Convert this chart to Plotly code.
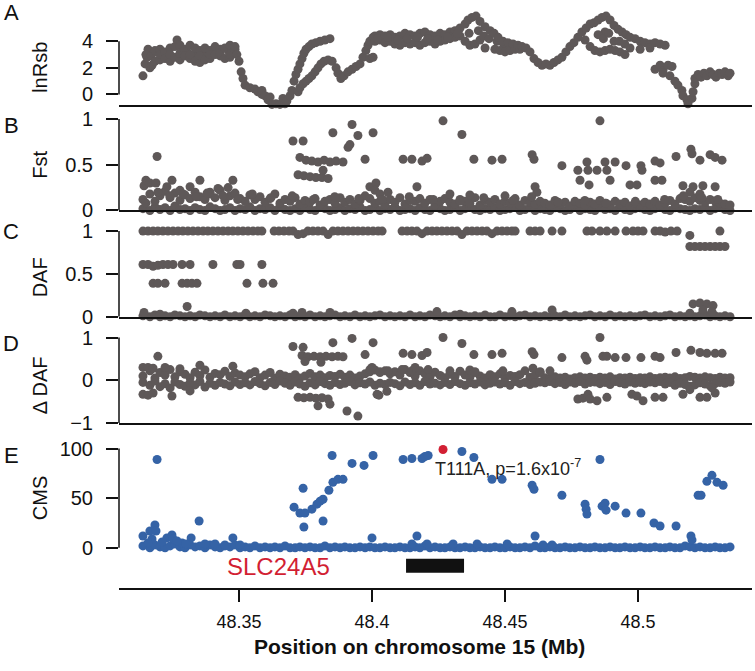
import plotly.graph_objects as go

# ---------------- data (positions in Mb) ----------------
xtick_vals = [48.35, 48.40, 48.45, 48.50]
xtick_text = ["48.35", "48.4", "48.45", "48.5"]

lnrsb_ticks = [0, 2, 4]
fst_ticks = [0, 0.5, 1]
daf_ticks = [0, 0.5, 1]
ddaf_ticks = [-1, 0, 1]
cms_ticks = [0, 50, 100]

lnrsb_points = [
    (48.3139, 1.4), (48.3147, 2.3), (48.3154, 2.8), (48.3158, 3.4), (48.3165, 2.0), (48.3173, 2.2),
    (48.3150, 3.0), (48.3192, 3.2), (48.3233, 2.9), (48.3290, 3.3), (48.3340, 3.1), (48.3400, 3.2),
    (48.3460, 3.3), (48.3170, 2.9), (48.3212, 3.1), (48.3305, 3.2), (48.3365, 3.0), (48.3420, 3.3),
    (48.3184, 3.3), (48.3184, 2.5), (48.3203, 3.4), (48.3203, 2.6), (48.3203, 3.0),
    (48.3222, 3.2), (48.3222, 2.7), (48.3241, 3.5), (48.3241, 2.5), (48.3241, 3.0),
    (48.3259, 3.6), (48.3259, 2.8), (48.3267, 4.1), (48.3278, 3.7), (48.3278, 2.6), (48.3278, 3.1),
    (48.3297, 3.4), (48.3297, 2.9), (48.3316, 3.7), (48.3316, 2.7), (48.3316, 3.0),
    (48.3335, 3.5), (48.3335, 2.5), (48.3353, 3.3), (48.3353, 2.4), (48.3353, 2.9),
    (48.3372, 3.5), (48.3372, 2.6), (48.3391, 3.3), (48.3391, 2.7), (48.3391, 3.0),
    (48.3410, 3.6), (48.3410, 3.0), (48.3429, 3.4), (48.3429, 2.9), (48.3429, 3.1),
    (48.3447, 3.5), (48.3447, 2.7), (48.3466, 3.7), (48.3466, 2.8), (48.3466, 3.0),
    (48.3485, 3.4), (48.3485, 3.6),
    (48.3492, 3.0), (48.3500, 2.5), (48.3508, 1.7), (48.3515, 1.2), (48.3523, 0.7), (48.3541, 0.5),
    (48.3560, 0.4), (48.3571, 0.2), (48.3586, 0.0), (48.3586, 0.3), (48.3598, -0.1), (48.3609, -0.4),
    (48.3617, -0.2), (48.3624, -0.75), (48.3639, -0.7), (48.3654, -0.75), (48.3665, -0.3),
    (48.3673, -0.7), (48.3680, -0.5), (48.3692, -0.1), (48.3699, 0.3),
    (48.3707, 1.0), (48.3714, 1.5), (48.3722, 1.9), (48.3729, 2.3), (48.3737, 2.7), (48.3744, 3.1),
    (48.3752, 3.4), (48.3763, 3.6), (48.3774, 3.8), (48.3789, 3.9), (48.3805, 4.0), (48.3823, 4.1),
    (48.3842, 4.2),
    (48.3722, 0.2), (48.3729, 0.5), (48.3741, 0.8), (48.3752, 1.0), (48.3763, 1.2), (48.3774, 1.4),
    (48.3786, 1.7), (48.3797, 2.0), (48.3808, 2.3), (48.3820, 2.5), (48.3835, 2.6), (48.3850, 2.5),
    (48.3865, 2.0), (48.3872, 1.6), (48.3883, 1.2), (48.3895, 1.4), (48.3910, 1.7), (48.3925, 1.9),
    (48.3940, 2.1), (48.3955, 2.3), (48.3966, 2.8), (48.3977, 3.3), (48.3985, 3.7),
    (48.3992, 2.7), (48.3992, 4.0), (48.4004, 2.8), (48.4004, 4.3),
    (48.4011, 4.4), (48.4011, 4.0), (48.4030, 4.5), (48.4030, 4.1), (48.4049, 4.4), (48.4049, 3.9),
    (48.4068, 4.5), (48.4068, 4.0), (48.4086, 4.3), (48.4086, 3.8), (48.4105, 4.4), (48.4105, 3.7),
    (48.4124, 4.6), (48.4124, 3.9), (48.4143, 4.5), (48.4143, 3.8), (48.4162, 4.4), (48.4162, 3.9),
    (48.4180, 4.6), (48.4180, 3.7), (48.4199, 4.7), (48.4199, 3.9), (48.4218, 4.5), (48.4218, 4.0),
    (48.4237, 4.4), (48.4237, 3.8), (48.4256, 4.6), (48.4256, 4.0), (48.4274, 4.5), (48.4274, 4.1),
    (48.4293, 4.7), (48.4293, 4.2), (48.4312, 4.8), (48.4312, 4.3), (48.4331, 5.0), (48.4331, 4.4),
    (48.4020, 4.2), (48.4058, 4.3), (48.4096, 4.1), (48.4133, 4.2), (48.4171, 4.3), (48.4209, 4.2),
    (48.4246, 4.1), (48.4284, 4.3), (48.4321, 4.6),
    (48.4350, 5.3), (48.4350, 4.0), (48.4361, 5.6), (48.4368, 3.7), (48.4376, 5.8), (48.4387, 3.8),
    (48.4391, 5.9), (48.4406, 5.5), (48.4406, 4.1), (48.4425, 5.1), (48.4425, 3.5),
    (48.4365, 4.6), (48.4400, 4.8), (48.4420, 4.4), (48.4440, 4.2), (48.4470, 4.0), (48.4495, 3.8),
    (48.4520, 3.6),
    (48.4444, 4.8), (48.4459, 4.6), (48.4462, 3.4), (48.4474, 4.3), (48.4481, 3.3),
    (48.4492, 4.0), (48.4500, 3.2), (48.4511, 3.9), (48.4519, 3.3), (48.4530, 3.8), (48.4538, 3.4),
    (48.4549, 3.7), (48.4556, 3.4), (48.4564, 3.6), (48.4579, 3.5), (48.4594, 3.2), (48.4609, 2.7),
    (48.4624, 2.4), (48.4639, 2.2), (48.4654, 2.3), (48.4669, 2.2), (48.4684, 2.4), (48.4699, 2.6),
    (48.4714, 2.8), (48.4729, 3.2), (48.4744, 3.6), (48.4759, 3.9), (48.4774, 4.3), (48.4789, 4.7),
    (48.4801, 4.1), (48.4805, 5.0), (48.4820, 5.3), (48.4820, 3.6), (48.4835, 5.4), (48.4838, 3.3),
    (48.4850, 5.6), (48.4857, 3.2), (48.4865, 5.8), (48.4876, 4.7), (48.4876, 3.3), (48.4880, 5.9),
    (48.4850, 4.5), (48.4870, 4.2), (48.4890, 4.6), (48.4910, 4.0), (48.4930, 4.0), (48.4950, 3.8),
    (48.4895, 5.6), (48.4895, 3.4), (48.4910, 5.2), (48.4914, 3.3), (48.4925, 4.9), (48.4932, 3.2),
    (48.4940, 4.7), (48.4951, 3.0), (48.4955, 4.5), (48.4970, 4.3), (48.4970, 3.5), (48.4989, 4.2),
    (48.5008, 4.0), (48.5008, 3.4), (48.5026, 3.9), (48.5045, 3.8), (48.5045, 3.5),
    (48.5064, 3.9), (48.5064, 1.9), (48.5083, 3.8), (48.5083, 2.2), (48.5094, 1.8), (48.5094, 1.6),
    (48.5102, 3.7), (48.5113, 2.2), (48.5120, 1.4), (48.5128, 2.1), (48.5139, 1.0), (48.5150, 0.7),
    (48.5165, 0.3), (48.5169, -0.1), (48.5184, -0.4), (48.5188, -0.7), (48.5203, -0.3), (48.5207, 0.2),
    (48.5214, 0.8), (48.5214, 1.2), (48.5226, 1.5), (48.5237, 1.3), (48.5248, 1.6), (48.5259, 1.4),
    (48.5271, 1.7), (48.5282, 1.5), (48.5293, 1.3), (48.5305, 1.6), (48.5316, 1.5), (48.5327, 1.7),
    (48.5339, 1.4), (48.5346, 1.6),
]

baseline_pos = [
    48.3139, 48.3165, 48.3184, 48.3203, 48.3222, 48.3241, 48.3259, 48.3278, 48.3297, 48.3316,
    48.3335, 48.3353, 48.3372, 48.3391, 48.3410, 48.3429, 48.3447, 48.3466, 48.3485, 48.3504,
    48.3523, 48.3541, 48.3560, 48.3579, 48.3598, 48.3617, 48.3635, 48.3654, 48.3673, 48.3692,
    48.3711, 48.3729, 48.3748, 48.3767, 48.3786, 48.3805, 48.3823, 48.3842, 48.3861, 48.3880,
    48.3898, 48.3917, 48.3936, 48.3955, 48.3974, 48.3992, 48.4011, 48.4030, 48.4049, 48.4068,
    48.4086, 48.4105, 48.4124, 48.4143, 48.4162, 48.4180, 48.4199, 48.4218, 48.4237, 48.4256,
    48.4274, 48.4293, 48.4312, 48.4331, 48.4350, 48.4368, 48.4387, 48.4406, 48.4425, 48.4444,
    48.4462, 48.4481, 48.4500, 48.4519, 48.4538, 48.4556, 48.4575, 48.4594, 48.4613, 48.4632,
    48.4650, 48.4669, 48.4688, 48.4707, 48.4726, 48.4744, 48.4763, 48.4782, 48.4801, 48.4820,
    48.4838, 48.4857, 48.4876, 48.4895, 48.4914, 48.4932, 48.4951, 48.4970, 48.4989, 48.5008,
    48.5026, 48.5045, 48.5064, 48.5083, 48.5102, 48.5120, 48.5139, 48.5158, 48.5177, 48.5195,
    48.5214, 48.5233, 48.5252, 48.5271, 48.5290, 48.5308, 48.5327, 48.5346,
]

fst_low = [
    0.02, 0.00, 0.04, 0.01, 0.03, 0.00, 0.05, 0.01, 0.02, 0.00,
    0.03, 0.01, 0.00, 0.04, 0.02, 0.00, 0.01, 0.03, 0.00, 0.02,
    0.01, 0.04, 0.00, 0.02, 0.01, 0.03, 0.00, 0.05, 0.01, 0.00,
    0.02, 0.00, 0.03, 0.01, 0.00, 0.04, 0.02, 0.00, 0.01, 0.03,
    0.00, 0.02, 0.01, 0.04, 0.00, 0.01, 0.03, 0.00, 0.02, 0.01,
    0.04, 0.00, 0.01, 0.02, 0.00, 0.03, 0.01, 0.00, 0.05, 0.02,
    0.00, 0.01, 0.03, 0.00, 0.02, 0.04, 0.01, 0.00, 0.02, 0.01,
    0.03, 0.00, 0.01, 0.02, 0.04, 0.00, 0.01, 0.03, 0.00, 0.02,
    0.01, 0.00, 0.03, 0.02, 0.00, 0.01, 0.04, 0.00, 0.02, 0.01,
    0.00, 0.03, 0.01, 0.02, 0.00, 0.04, 0.01, 0.00, 0.02, 0.03,
    0.01, 0.00, 0.02, 0.04, 0.01, 0.00, 0.03, 0.02, 0.01, 0.00,
    0.02, 0.01, 0.03, 0.00, 0.02, 0.04, 0.01, 0.00,
]
fst_mid = [
    0.12, 0.18, 0.10, 0.16, 0.21, 0.14, 0.19, 0.11, 0.17, 0.13,
    0.20, 0.15, 0.12, 0.18, 0.14, 0.22, 0.11, 0.16, 0.19, 0.13,
    0.10, 0.17, 0.12, 0.15, 0.09, 0.13, 0.18, 0.08, 0.12, 0.10,
    0.14, 0.07, 0.11, 0.09, 0.13, 0.06, 0.10, 0.12, 0.08, 0.14,
    0.09, 0.12, 0.07, 0.11, 0.16, 0.13, 0.08, 0.10, 0.06, 0.12,
    0.09, 0.14, 0.07, 0.11, 0.10, 0.13, 0.08, 0.12, 0.06, 0.10,
    0.13, 0.09, 0.07, 0.12, 0.10, 0.08, 0.14, 0.06, 0.11, 0.09,
    0.12, 0.07, 0.10, 0.08, 0.13, 0.06, 0.11, 0.09, 0.07, 0.10,
    0.08, 0.06, 0.11, 0.07, 0.09, 0.05, 0.10, 0.08, 0.06, 0.09,
    0.07, 0.11, 0.08, 0.06, 0.10, 0.07, 0.09, 0.05, 0.08, 0.06,
    0.09, 0.07, 0.10, 0.06, 0.08, 0.11, 0.07, 0.13, 0.12, 0.10,
    0.14, 0.11, 0.09, 0.12, 0.10, 0.08, 0.07, 0.06,
]
fst_peaks = [
    (48.3192, 0.59), (48.3143, 0.27), (48.3150, 0.33), (48.3165, 0.30), (48.3188, 0.30),
    (48.3248, 0.33), (48.3229, 0.26), (48.3353, 0.33), (48.3316, 0.26), (48.3477, 0.33),
    (48.3459, 0.25), (48.3278, 0.22), (48.3391, 0.20), (48.3421, 0.24),
    (48.3703, 0.76), (48.3741, 0.76),
    (48.3729, 0.58), (48.3752, 0.55), (48.3774, 0.54), (48.3797, 0.53), (48.3820, 0.55),
    (48.3842, 0.53), (48.3865, 0.54), (48.3891, 0.53),
    (48.3722, 0.39), (48.3744, 0.38), (48.3767, 0.37), (48.3789, 0.36), (48.3812, 0.36),
    (48.3835, 0.35), (48.3816, 0.44),
    (48.3853, 0.85), (48.3925, 0.94), (48.3947, 0.82), (48.3910, 0.69), (48.3917, 0.72),
    (48.3974, 0.56), (48.4004, 0.85),
    (48.3992, 0.26), (48.4015, 0.30), (48.4011, 0.22), (48.4030, 0.18), (48.4060, 0.20),
    (48.4267, 0.98), (48.4338, 0.83), (48.4117, 0.56), (48.4150, 0.56), (48.4188, 0.54),
    (48.4207, 0.57), (48.4383, 0.56), (48.4451, 0.55), (48.4489, 0.56), (48.4602, 0.61),
    (48.4609, 0.56), (48.4714, 0.49), (48.4857, 0.98), (48.4774, 0.44), (48.4808, 0.53),
    (48.4812, 0.44), (48.4782, 0.33), (48.4816, 0.28), (48.4846, 0.44), (48.4876, 0.53),
    (48.4883, 0.44), (48.4914, 0.53), (48.4895, 0.33), (48.4955, 0.49), (48.4970, 0.28),
    (48.4996, 0.28), (48.5011, 0.49), (48.5015, 0.44), (48.5064, 0.54), (48.5083, 0.52),
    (48.5064, 0.33), (48.5090, 0.33), (48.5143, 0.59), (48.5199, 0.67), (48.5203, 0.62),
    (48.5233, 0.55), (48.5271, 0.61), (48.5290, 0.58), (48.5316, 0.55), (48.5169, 0.27),
    (48.5207, 0.26), (48.5244, 0.27), (48.5290, 0.26), (48.4169, 0.26), (48.4613, 0.26),
    (48.5195, 0.20), (48.5233, 0.18), (48.4293, 0.18), (48.4368, 0.17), (48.4500, 0.16),
    (48.4620, 0.20),
    (48.3150, 0.08), (48.3195, 0.20), (48.3240, 0.16), (48.3290, 0.18), (48.3340, 0.15),
    (48.3380, 0.19), (48.3440, 0.16), (48.3495, 0.12), (48.3550, 0.18), (48.3620, 0.14),
    (48.3700, 0.16), (48.3780, 0.12), (48.3860, 0.15), (48.3950, 0.13), (48.4040, 0.12),
    (48.4140, 0.15), (48.4230, 0.12), (48.4330, 0.10), (48.4420, 0.14), (48.4530, 0.11),
    (48.4600, 0.15), (48.4700, 0.09), (48.4800, 0.11), (48.4880, 0.08), (48.4990, 0.10),
    (48.5100, 0.12), (48.5170, 0.16), (48.5240, 0.14), (48.5300, 0.12),
]

daf_base = [
    0.01, 0.00, 0.02, 0.00, 0.01, 0.00, 0.02, 0.01, 0.00, 0.01,
    0.00, 0.02, 0.01, 0.00, 0.01, 0.00, 0.02, 0.00, 0.01, 0.00,
    0.02, 0.00, 0.01, 0.00, 0.02, 0.01, 0.00, 0.01, 0.00, 0.02,
    0.00, 0.01, 0.00, 0.02, 0.00, 0.01, 0.00, 0.01, 0.02, 0.00,
    0.01, 0.00, 0.02, 0.00, 0.01, 0.00, 0.01, 0.02, 0.00, 0.01,
    0.00, 0.01, 0.00, 0.02, 0.00, 0.01, 0.00, 0.02, 0.01, 0.00,
    0.01, 0.00, 0.02, 0.00, 0.01, 0.00, 0.01, 0.00, 0.02, 0.00,
    0.00, 0.02, 0.00, 0.01, 0.00, 0.01, 0.02, 0.00, 0.01, 0.00,
    0.01, 0.00, 0.01, 0.00, 0.02, 0.00, 0.01, 0.00, 0.01, 0.02,
    0.00, 0.01, 0.00, 0.02, 0.00, 0.01, 0.00, 0.01, 0.00, 0.01,
    0.02, 0.00, 0.01, 0.00, 0.01, 0.02, 0.00, 0.01, 0.00, 0.01,
    0.00, 0.01, 0.02, 0.00, 0.01, 0.00, 0.01, 0.00,
]
daf_peaks = [
    # fixed (~1)
    (48.3139, 1.0), (48.3158, 1.0), (48.3177, 1.0), (48.3195, 1.0), (48.3214, 1.0), (48.3233, 1.0),
    (48.3252, 1.0), (48.3271, 1.0), (48.3289, 1.0), (48.3308, 1.0), (48.3327, 1.0), (48.3346, 1.0),
    (48.3365, 1.0), (48.3383, 1.0), (48.3402, 1.0), (48.3421, 1.0), (48.3440, 1.0), (48.3459, 1.0),
    (48.3477, 1.0), (48.3496, 1.0), (48.3515, 1.0), (48.3534, 1.0), (48.3553, 1.0), (48.3571, 1.0),
    (48.3586, 1.0),
    (48.3632, 1.0), (48.3650, 1.0), (48.3669, 1.0), (48.3688, 1.0), (48.3703, 1.0), (48.3722, 0.96),
    (48.3741, 0.97), (48.3759, 1.0), (48.3778, 1.0), (48.3797, 1.0), (48.3816, 1.0), (48.3835, 0.96),
    (48.3853, 1.0), (48.3872, 1.0), (48.3891, 1.0), (48.3910, 1.0), (48.3929, 1.0), (48.3947, 1.0),
    (48.3966, 1.0), (48.3985, 1.0), (48.4004, 1.0), (48.4023, 1.0), (48.4038, 1.0),
    (48.4113, 1.0), (48.4132, 1.0), (48.4150, 1.0), (48.4169, 1.0), (48.4188, 0.97), (48.4207, 1.0),
    (48.4226, 1.0), (48.4244, 1.0), (48.4263, 1.0), (48.4282, 1.0), (48.4301, 1.0), (48.4320, 1.0),
    (48.4338, 0.96), (48.4357, 1.0), (48.4376, 1.0), (48.4395, 1.0), (48.4414, 1.0), (48.4432, 1.0),
    (48.4451, 0.97), (48.4470, 1.0), (48.4489, 1.0), (48.4508, 1.0), (48.4526, 1.0), (48.4538, 1.0),
    (48.4594, 1.0), (48.4613, 1.0), (48.4632, 1.0), (48.4677, 1.0), (48.4714, 1.0),
    (48.4808, 1.0), (48.4827, 1.0), (48.4857, 1.0), (48.4883, 1.0), (48.4914, 1.0), (48.4955, 1.0),
    (48.4981, 1.0), (48.5000, 1.0), (48.5019, 1.0),
    (48.5064, 1.0), (48.5083, 1.0), (48.5102, 0.99), (48.5124, 1.0), (48.5147, 1.0),
    (48.5195, 0.95), (48.5308, 1.0),
    # ~0.82 row
    (48.5195, 0.82), (48.5214, 0.82), (48.5233, 0.82), (48.5252, 0.82), (48.5271, 0.82),
    (48.5290, 0.82), (48.5308, 0.82), (48.5327, 0.82),
    # ~0.6 row
    (48.3139, 0.61), (48.3158, 0.61), (48.3177, 0.59), (48.3195, 0.60), (48.3214, 0.61),
    (48.3233, 0.61), (48.3252, 0.61), (48.3286, 0.61), (48.3316, 0.61), (48.3402, 0.61),
    (48.3492, 0.61), (48.3504, 0.61), (48.3586, 0.61),
    # ~0.4 row
    (48.3177, 0.39), (48.3195, 0.39), (48.3222, 0.39), (48.3286, 0.39), (48.3305, 0.39),
    (48.3323, 0.39), (48.3342, 0.39), (48.3530, 0.39), (48.3590, 0.39), (48.3628, 0.39),
    # low
    (48.3305, 0.12), (48.3143, 0.05), (48.3203, 0.03), (48.3526, 0.04), (48.3703, 0.04),
    (48.3737, 0.05), (48.3842, 0.05), (48.4244, 0.06), (48.4331, 0.03), (48.4526, 0.06),
    (48.4677, 0.08), (48.5207, 0.15), (48.5233, 0.16), (48.5259, 0.15), (48.5282, 0.13),
    (48.5244, 0.08), (48.5278, 0.06), (48.5195, 0.04),
]

ddaf_up = [
    0.10, 0.22, 0.05, 0.18, 0.12, 0.25, 0.08, 0.20, 0.14, 0.06,
    0.19, 0.11, 0.24, 0.07, 0.16, 0.13, 0.21, 0.09, 0.17, 0.12,
    0.08, 0.15, 0.20, 0.06, 0.12, 0.18, 0.05, 0.14, 0.10, 0.07,
    0.13, 0.05, 0.10, 0.16, 0.08, 0.12, 0.06, 0.11, 0.09, 0.14,
    0.07, 0.12, 0.05, 0.10, 0.15, 0.20, 0.24, 0.18, 0.22, 0.15,
    0.20, 0.12, 0.25, 0.18, 0.10, 0.22, 0.15, 0.08, 0.19, 0.11,
    0.06, 0.14, 0.09, 0.21, 0.12, 0.07, 0.18, 0.10, 0.05, 0.13,
    0.08, 0.15, 0.06, 0.11, 0.09, 0.13, 0.22, 0.07, 0.12, 0.18,
    0.06, 0.04, 0.08, 0.05, 0.07, 0.03, 0.06, 0.08, 0.05, 0.07,
    0.04, 0.07, 0.05, 0.08, 0.03, 0.06, 0.05, 0.07, 0.04, 0.06,
    0.05, 0.08, 0.04, 0.06, 0.07, 0.05, 0.08, 0.04, 0.06, 0.09,
    0.07, 0.05, 0.08, 0.06, 0.04, 0.07, 0.05, 0.06,
]
ddaf_dn = [
    -0.05, -0.12, -0.02, -0.15, -0.08, -0.18, -0.04, -0.10, -0.14, -0.06,
    -0.11, -0.03, -0.16, -0.07, -0.12, -0.05, -0.09, -0.13, -0.04, -0.10,
    -0.06, -0.11, -0.03, -0.08, -0.13, -0.05, -0.10, -0.02, -0.07, -0.12,
    -0.04, -0.09, -0.14, -0.06, -0.11, -0.03, -0.08, -0.12, -0.05, -0.10,
    -0.07, -0.03, -0.11, -0.06, -0.09, -0.04, -0.12, -0.07, -0.10, -0.05,
    -0.08, -0.13, -0.04, -0.10, -0.06, -0.12, -0.03, -0.09, -0.07, -0.11,
    -0.05, -0.10, -0.03, -0.08, -0.12, -0.06, -0.09, -0.04, -0.11, -0.07,
    -0.04, -0.09, -0.06, -0.12, -0.03, -0.08, -0.05, -0.10, -0.07, -0.04,
    -0.06, -0.03, -0.08, -0.05, -0.10, -0.04, -0.07, -0.03, -0.09, -0.05,
    -0.04, -0.08, -0.05, -0.10, -0.03, -0.06, -0.09, -0.04, -0.07, -0.05,
    -0.08, -0.04, -0.06, -0.03, -0.09, -0.05, -0.12, -0.07, -0.10, -0.14,
    -0.11, -0.06, -0.09, -0.13, -0.08, -0.05, -0.07, -0.04,
]
ddaf_peaks = [
    (48.3195, 0.56), (48.3139, 0.30), (48.3158, 0.30), (48.3177, 0.28), (48.3139, -0.33),
    (48.3158, -0.35), (48.3177, -0.30), (48.3248, -0.37), (48.3222, 0.30), (48.3278, 0.27),
    (48.3353, 0.35), (48.3477, 0.33), (48.3316, -0.25),
    (48.3703, 0.79), (48.3741, 0.77),
    (48.3737, 0.58), (48.3759, 0.55), (48.3782, 0.56), (48.3805, 0.55), (48.3827, 0.56),
    (48.3850, 0.55), (48.3872, 0.56), (48.3891, 0.55), (48.3748, 0.44), (48.3808, 0.42),
    (48.3722, -0.40), (48.3744, -0.41), (48.3767, -0.40), (48.3789, -0.42), (48.3812, -0.41),
    (48.3835, -0.44), (48.3797, -0.60), (48.3842, -0.56), (48.3906, -0.72), (48.3947, -0.84),
    (48.3853, 0.88), (48.3925, 0.98), (48.4004, 0.88), (48.3974, 0.60), (48.4019, -0.33),
    (48.4026, -0.35), (48.4056, -0.26), (48.4000, 0.30),
    (48.4267, 1.0), (48.4338, 0.86), (48.4117, 0.63), (48.4150, 0.60), (48.4188, 0.58),
    (48.4207, 0.65), (48.4383, 0.60), (48.4451, 0.60), (48.4489, 0.63), (48.4602, 0.67),
    (48.4609, 0.60), (48.4714, 0.53), (48.4801, 0.56), (48.4808, 0.47), (48.4857, 1.0),
    (48.4868, 0.56), (48.4883, 0.56), (48.4914, 0.53), (48.4955, 0.53), (48.5011, 0.53),
    (48.5064, 0.56), (48.5083, 0.53), (48.5143, 0.65), (48.5199, 0.70), (48.5233, 0.65),
    (48.5259, 0.63), (48.5290, 0.63), (48.5316, 0.63),
    (48.4774, -0.44), (48.4793, -0.42), (48.4812, -0.33), (48.4820, -0.44), (48.4846, -0.48),
    (48.4883, -0.40), (48.4977, -0.33), (48.4996, -0.37), (48.5019, -0.48), (48.5064, -0.40),
    (48.5094, -0.40), (48.5169, -0.33), (48.5233, -0.40), (48.5259, -0.40), (48.5290, -0.30),
    (48.3992, 0.25), (48.4030, 0.20), (48.4060, 0.22), (48.4113, 0.25), (48.4150, 0.22),
    (48.4162, 0.30), (48.4211, 0.25), (48.4293, 0.22), (48.4368, 0.24), (48.4387, 0.20),
    (48.4492, 0.22), (48.4605, 0.28), (48.4632, 0.20), (48.4669, 0.22),
    (48.5195, -0.22), (48.5278, -0.18),
]

cms_base = [
    2, 0, 3, 1, 0, 2, 4, 1, 0, 3,
    1, 2, 0, 3, 1, 0, 2, 1, 3, 0,
    1, 0, 2, 0, 1, 0, 1, 0, 2, 0,
    0, 1, 0, 1, 0, 0, 2, 0, 1, 0,
    1, 0, 0, 1, 0, 1, 0, 0, 1, 0,
    0, 1, 0, 0, 1, 0, 2, 0, 1, 0,
    0, 1, 0, 0, 1, 0, 0, 1, 0, 0,
    1, 0, 0, 1, 0, 0, 1, 0, 2, 0,
    0, 1, 0, 0, 1, 0, 0, 1, 0, 0,
    1, 0, 0, 1, 0, 0, 1, 0, 0, 1,
    0, 0, 1, 0, 0, 1, 0, 0, 2, 1,
    0, 1, 0, 0, 1, 0, 0, 1,
]
cms_peaks = [
    (48.3192, 89), (48.3139, 12), (48.3165, 17), (48.3184, 23), (48.3188, 17), (48.3173, 9),
    (48.3158, 5), (48.3229, 10), (48.3248, 13), (48.3252, 9), (48.3286, 5), (48.3320, 10),
    (48.3350, 27), (48.3372, 4), (48.3410, 4), (48.3447, 3), (48.3477, 10), (48.3211, 6),
    (48.3267, 7), (48.3301, 4), (48.3504, 3),
    (48.3707, 41), (48.3729, 35), (48.3748, 35), (48.3774, 39), (48.3741, 60), (48.3744, 21),
    (48.3793, 44), (48.3805, 47), (48.3816, 49), (48.3816, 27), (48.3838, 58), (48.3853, 66),
    (48.3872, 69), (48.3891, 69), (48.3850, 93), (48.3925, 85), (48.3970, 83), (48.4004, 93),
    (48.4000, 10),
    (48.4117, 89), (48.4150, 90), (48.4188, 90), (48.4199, 92), (48.4211, 93), (48.4338, 97),
    (48.4383, 91), (48.4451, 69), (48.4489, 69), (48.4602, 63), (48.4609, 59), (48.4714, 53),
    (48.4801, 44), (48.4805, 39), (48.4808, 34), (48.4857, 89), (48.4865, 42), (48.4876, 45),
    (48.4880, 38), (48.4914, 42), (48.4955, 35), (48.5011, 35), (48.5060, 25), (48.5083, 22),
    (48.5143, 22), (48.5199, 12), (48.5203, 8), (48.5226, 53), (48.5237, 53), (48.5259, 67),
    (48.5278, 73), (48.5297, 66), (48.5320, 63),
    (48.4169, 12), (48.4613, 12), (48.4150, 4), (48.4207, 4), (48.4305, 4), (48.4395, 4),
    (48.4508, 4), (48.4643, 3), (48.4677, 3),
]
top_snp = [(48.4267, 99)]
top_snp_label = "T111A, p=1.6x10<sup>-7</sup>"

gene_name = "SLC24A5"
gene_start = 48.4128
gene_end = 48.4346

# ---------------- layout ----------------
W, H = 755, 671
GREY = "#5e5858"
BLUE = "#3563a6"
RED = "#d21f33"
INK = "#111111"
FONT = "Liberation Sans, Arial, sans-serif"
PX_PER_MB = 2660.0


def pyf(p):
    return 1 - p / H


x_dom = [119 / W, 752 / W]
x_range = [48.35 - 120 / PX_PER_MB, 48.35 + 513 / PX_PER_MB]

panels = [
    dict(dom=[pyf(107), pyf(10)], rng=[-0.815, 6.37], ticks=lnrsb_ticks, title="lnRsb",
         title_y=2.0, letter="A", letter_py=13),
    dict(dom=[pyf(214), pyf(110)], rng=[0, 1.118], ticks=fst_ticks, title="Fst",
         title_y=0.5, letter="B", letter_py=128),
    dict(dom=[pyf(322), pyf(218)], rng=[0, 1.195], ticks=daf_ticks, title="DAF",
         title_y=0.46, letter="C", letter_py=235),
    dict(dom=[pyf(430), pyf(326)], rng=[-1, 1.395], ticks=ddaf_ticks, title="\u0394 DAF",
         title_y=-0.12, letter="D", letter_py=349),
    dict(dom=[pyf(598), pyf(434)], rng=[-40.6, 121.8], ticks=cms_ticks, title="CMS",
         title_y=50, letter="E", letter_py=463),
]


def unzip(pairs):
    return [p[0] for p in pairs], [p[1] for p in pairs]


fig = go.Figure()


def add_pts(xs, ys, i, color):
    fig.add_trace(go.Scatter(
        x=xs, y=ys, mode="markers",
        marker=dict(size=9, color=color, line=dict(width=0)),
        xaxis="x" if i == 1 else f"x{i}", yaxis="y" if i == 1 else f"y{i}",
        cliponaxis=False, hoverinfo="skip", showlegend=False))


lx, ly = unzip(lnrsb_points)
add_pts(lx, ly, 1, GREY)

fx, fy = unzip(fst_peaks)
add_pts(baseline_pos + baseline_pos + fx, fst_low + fst_mid + fy, 2, GREY)

dx, dy = unzip(daf_peaks)
add_pts(baseline_pos + dx, daf_base + dy, 3, GREY)

ddx, ddy = unzip(ddaf_peaks)
add_pts(baseline_pos + baseline_pos + ddx, ddaf_up + ddaf_dn + ddy, 4, GREY)

cx, cy = unzip(cms_peaks)
add_pts(baseline_pos + cx, cms_base + cy, 5, BLUE)
tx, ty = unzip(top_snp)
add_pts(tx, ty, 5, RED)

layout = dict(
    width=W, height=H,
    margin=dict(l=0, r=0, t=0, b=0),
    paper_bgcolor="white", plot_bgcolor="white",
    font=dict(family=FONT, color=INK),
    showlegend=False,
)

shapes = []
annotations = []
for k, p in enumerate(panels):
    i = k + 1
    xa = "xaxis" if i == 1 else f"xaxis{i}"
    ya = "yaxis" if i == 1 else f"yaxis{i}"
    xr = "x" if i == 1 else f"x{i}"
    yr = "y" if i == 1 else f"y{i}"
    xdict = dict(domain=x_dom, range=x_range, anchor=yr, showline=True, linecolor=INK,
                 linewidth=1.5, showgrid=False, zeroline=False, showticklabels=False,
                 ticks="")
    if i == 5:
        xdict.update(ticks="outside", ticklen=12, tickwidth=1.5, tickcolor=INK,
                     tickmode="array", tickvals=xtick_vals, ticktext=xtick_text,
                     showticklabels=True, tickfont=dict(size=18, family=FONT, color=INK),
                     ticklabelstandoff=4)
    layout[xa] = xdict
    layout[ya] = dict(domain=p["dom"], range=p["rng"], anchor=xr, showline=False,
                      showgrid=False, zeroline=False, ticks="outside", ticklen=12,
                      tickwidth=1.5, tickcolor=INK, tickmode="array", tickvals=p["ticks"],
                      tickfont=dict(size=20, family=FONT, color=INK), ticklabelstandoff=9)
    # left axis line spanning the tick range (R style)
    shapes.append(dict(type="line", xref="paper", yref=yr, x0=x_dom[0], x1=x_dom[0],
                       y0=min(p["ticks"]), y1=max(p["ticks"]),
                       line=dict(color=INK, width=1.5)))
    annotations.append(dict(text=p["title"], xref="paper", yref=yr, x=40 / W, y=p["title_y"],
                            textangle=-90, showarrow=False, xanchor="center", yanchor="middle",
                            font=dict(size=20, family=FONT, color=INK)))
    annotations.append(dict(text=p["letter"], xref="paper", yref="paper", x=11 / W,
                            y=pyf(p["letter_py"]), showarrow=False, xanchor="center",
                            yanchor="middle", font=dict(size=22, family=FONT, color=INK)))

# gene bar and label
shapes.append(dict(type="rect", xref="x5", yref="y5", x0=gene_start, x1=gene_end,
                   y0=-11, y1=-25, fillcolor="#111111", line=dict(width=0)))
annotations.append(dict(text=gene_name, xref="x5", yref="y5", x=48.3647, y=-19,
                        showarrow=False, xanchor="center", yanchor="middle",
                        font=dict(size=24, family=FONT, color=RED)))
annotations.append(dict(text=top_snp_label, xref="x5", yref="y5", x=48.4229, y=81,
                        showarrow=False, xanchor="left", yanchor="middle",
                        font=dict(size=18, family=FONT, color="#222222")))
annotations.append(dict(text="<b>Position on chromosome 15 (Mb)</b>", xref="paper",
                        yref="paper", x=419 / W, y=pyf(657), showarrow=False,
                        xanchor="center", yanchor="middle",
                        font=dict(size=21, family=FONT, color=INK)))

layout["shapes"] = shapes
layout["annotations"] = annotations
fig.update_layout(**layout)

fig.write_html("out.html", config={"displayModeBar": False},
               post_script="document.body.style.margin='0px';")
